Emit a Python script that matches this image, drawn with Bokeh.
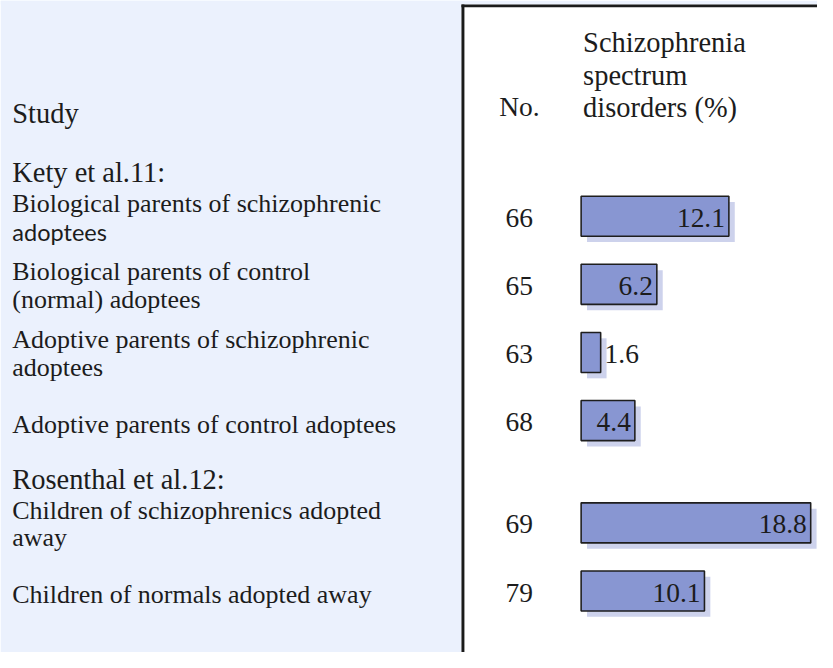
from bokeh.plotting import figure
from bokeh.models import Range1d, ColumnDataSource
from bokeh.core.properties import value
from bokeh.embed import file_html
from bokeh.resources import INLINE

# ---------------- data ----------------
study_header = "Study"
no_header = "No."
pct_header = ["Schizophrenia", "spectrum", "disorders (%)"]
groups = ["Kety et al.11:", "Rosenthal et al.12:"]
row_group = [0, 0, 0, 0, 1, 1]
labels = [
    ["Biological parents of schizophrenic", "adoptees"],
    ["Biological parents of control", "(normal) adoptees"],
    ["Adoptive parents of schizophrenic", "adoptees"],
    ["Adoptive parents of control adoptees"],
    ["Children of schizophrenics adopted", "away"],
    ["Children of normals adopted away"],
]
numbers = [66, 65, 63, 68, 69, 79]
percent = [12.1, 6.2, 1.6, 4.4, 18.8, 10.1]
sans_lines = [(0, 1)]  # the one line set in a sans face in the original

# ---------------- layout ----------------
W, H = 817, 652
RW, RH = 833, 668            # design canvas (data units)
K = W / RW                   # screen px per design unit
ROW0, STEP, GAP = 221, 69.8, 35
BAR_X, SCALE = 592, 12.45    # design units per percent
PANEL_R = 470
SERIF = value("Liberation Serif")
TXT = "#1c1c1c"


def fs(px):
    return f"{px * K:.2f}px"


def mid(baseline, size):
    # convert an alphabetic baseline to the 'middle' anchor
    return baseline - 0.335 * size


p = figure(width=W, height=H, x_range=Range1d(0, RW), y_range=Range1d(RH, 0),
           output_backend="svg", toolbar_location=None, min_border=0)
p.axis.visible = False
p.grid.visible = False
p.outline_line_color = None
p.background_fill_color = "white"
p.border_fill_color = "white"
p.extra_x_ranges = {"pct": Range1d((0 - BAR_X) / SCALE, (RW - BAR_X) / SCALE)}

# left panel and frame
BG = "#EBF1FD"
p.quad(left=0, right=PANEL_R, top=0, bottom=RH, fill_color=BG, line_color=None)
p.quad(left=0, right=RW, top=0, bottom=4, fill_color=BG, line_color=None)
p.segment(x0=[PANEL_R + 1.5, PANEL_R], y0=[4, 5.5], x1=[PANEL_R + 1.5, RW], y1=[RH, 5.5],
          line_color="#1A1A1A", line_width=3 * K)

row_y = [ROW0 + i * STEP + row_group[i] * GAP for i in range(len(numbers))]

# headers
p.text(x=[12], y=[mid(125, 29)], text=[study_header], text_font=SERIF, text_font_size=fs(29),
       text_baseline="middle", text_color=TXT)
p.text(x=[529], y=[mid(119, 28)], text=[no_header], text_font=SERIF, text_font_size=fs(28),
       text_align="center", text_baseline="middle", text_color=TXT)
p.text(x=[594] * 3, y=[mid(b, 29) for b in (53, 87, 119)], text=pct_header, text_font=SERIF,
       text_font_size=fs(29), text_baseline="middle", text_color=TXT)

# group headings
for g, name in enumerate(groups):
    first = row_group.index(g)
    p.text(x=[12], y=[mid(row_y[first] - 35, 29)], text=[name], text_font=SERIF,
           text_font_size=fs(29), text_baseline="middle", text_color=TXT)

# row labels
serif_x, serif_y, serif_t = [], [], []
sans_x, sans_y, sans_t = [], [], []
for i, lines in enumerate(labels):
    if len(lines) == 1:
        ys = [row_y[i] + 12.5]
    else:
        ys = [row_y[i] - 4 + 28 * k for k in range(len(lines))]
    for k, (t, yy) in enumerate(zip(lines, ys)):
        if (i, k) in sans_lines:
            sans_x.append(12); sans_y.append(mid(yy, 24)); sans_t.append(t)
        else:
            serif_x.append(12); serif_y.append(mid(yy, 26.5)); serif_t.append(t)
p.text(x=serif_x, y=serif_y, text=serif_t, text_font=SERIF, text_font_size=fs(26.5),
       text_baseline="middle", text_color=TXT)
p.text(x=sans_x, y=sans_y, text=sans_t, text_font=value("Lato"), text_font_size=fs(24),
       text_baseline="middle", text_color=TXT)

# numbers
p.text(x=[529] * len(numbers), y=[mid(y + 11, 28) for y in row_y], text=[str(n) for n in numbers],
       text_font=SERIF, text_font_size=fs(28), text_align="center", text_baseline="middle",
       text_color=TXT)

# bars with drop shadows
off = 6
src = ColumnDataSource(dict(
    y=row_y, right=percent,
    sy=[y + off for y in row_y],
    sl=[off / SCALE] * len(percent),
    sr=[v + off / SCALE for v in percent],
))
p.hbar(y="sy", left="sl", right="sr", height=41, source=src, x_range_name="pct",
       fill_color="#CDD2EC", line_color=None)
p.hbar(y="y", left=0, right="right", height=41, source=src, x_range_name="pct",
       fill_color="#8896D2", line_color="#1E1E1E", line_width=1.6 * K)

# value labels
in_x, in_y, in_t, out_x, out_y, out_t = [], [], [], [], [], []
for v, y in zip(percent, row_y):
    if v * SCALE >= 48:
        in_x.append(v - 4 / SCALE); in_y.append(mid(y + 11, 28)); in_t.append(f"{v:.1f}")
    else:
        out_x.append(v + 4 / SCALE); out_y.append(mid(y + 11, 28)); out_t.append(f"{v:.1f}")
p.text(x=in_x, y=in_y, text=in_t, x_range_name="pct", text_font=SERIF, text_font_size=fs(28),
       text_align="right", text_baseline="middle", text_color=TXT)
p.text(x=out_x, y=out_y, text=out_t, x_range_name="pct", text_font=SERIF, text_font_size=fs(28),
       text_align="left", text_baseline="middle", text_color=TXT)

open("out.html", "w").write(file_html(p, INLINE))
